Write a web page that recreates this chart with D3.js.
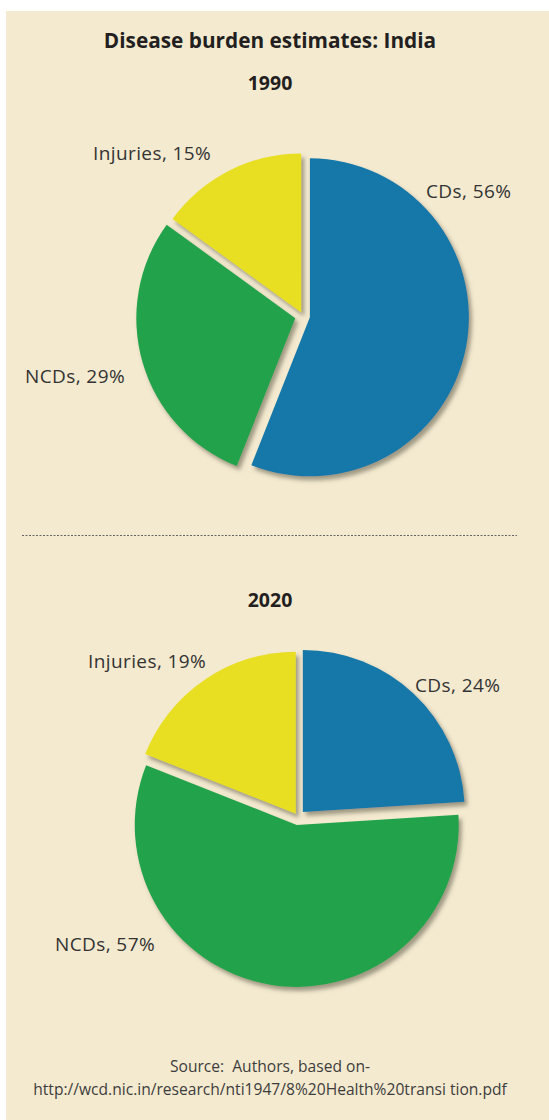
<!DOCTYPE html>
<html>
<head>
<meta charset="utf-8">
<script src="https://cdn.jsdelivr.net/npm/d3@7"></script>
<style>
  html, body { margin: 0; padding: 0; background: #ffffff; }
  svg { display: block; }
  text { font-family: "Open Sans", "Noto Sans", sans-serif; white-space: pre; }
</style>
</head>
<body>
<svg id="chart" width="549" height="1120"></svg>
<script>
// ---- data ----
const categories = ["CDs", "NCDs", "Injuries"];
const years = ["1990", "2020"];
const values1990 = [56, 29, 15];
const values2020 = [24, 57, 19];
const title = "Disease burden estimates: India";
const sourceLines = ["Source:  Authors, based on-", "http://wcd.nic.in/research/nti1947/8%20Health%20transi tion.pdf"];

// ---- style / layout ----
const colors = d3.scaleOrdinal().domain(categories).range(["#1378a9", "#24a34b", "#e8de24"]);
const bg = "#f4ead0";
const textColor = "#333";
const explode = { "CDs": 7, "NCDs": 8, "Injuries": 4 };

const panels = [
  { year: years[0], values: values1990, cx: 303, cy: 316, r: 159, yearY: 90,
    labelPos: { "CDs": [426, 198, "start"], "NCDs": [25, 383, "start"], "Injuries": [93, 160, "start"] } },
  { year: years[1], values: values2020, cx: 298, cy: 817, r: 162, yearY: 607,
    labelPos: { "CDs": [415, 692, "start"], "NCDs": [55, 951, "start"], "Injuries": [88, 668, "start"] } }
];

const svg = d3.select("#chart");
const W = 549, H = 1120;

const defs = svg.append("defs");
const f = defs.append("filter").attr("id", "shadow")
  .attr("x", "-20%").attr("y", "-20%").attr("width", "140%").attr("height", "140%");
f.append("feDropShadow").attr("dx", 3).attr("dy", 4).attr("stdDeviation", 2.2)
  .attr("flood-color", "#5a5444").attr("flood-opacity", 0.55);

svg.append("rect").attr("x", 6).attr("y", 11).attr("width", W - 6).attr("height", H - 11).attr("fill", bg);

svg.append("text").attr("x", 270).attr("y", 48).attr("text-anchor", "middle")
  .attr("font-size", 20.8).attr("font-weight", 700).attr("fill", "#231f20").text(title);

const pie = d3.pie().sort(null).value(d => d.v);

panels.forEach(p => {
  svg.append("text").attr("x", 270).attr("y", p.yearY).attr("text-anchor", "middle")
    .attr("font-size", 19.5).attr("font-weight", 700).attr("fill", "#231f20").text(p.year);

  const data = categories.map((c, i) => ({ c, v: p.values[i] }));
  const arcs = pie(data);
  const arc = d3.arc().innerRadius(0).outerRadius(p.r);
  const g = svg.append("g").attr("transform", `translate(${p.cx},${p.cy})`);
  g.selectAll("path").data(arcs).join("path")
    .attr("d", arc)
    .attr("fill", d => colors(d.data.c))
    .attr("filter", "url(#shadow)")
    .attr("transform", d => {
      const m = (d.startAngle + d.endAngle) / 2;
      const o = explode[d.data.c];
      return `translate(${Math.sin(m) * o},${-Math.cos(m) * o})`;
    });

  svg.append("g").selectAll("text").data(arcs).join("text")
    .attr("x", d => p.labelPos[d.data.c][0])
    .attr("y", d => p.labelPos[d.data.c][1])
    .attr("text-anchor", d => p.labelPos[d.data.c][2])
    .attr("font-size", 19).attr("letter-spacing", 0.4).attr("fill", textColor)
    .text(d => `${d.data.c}, ${d.data.v}%`);
});

svg.append("line").attr("x1", 22).attr("x2", 517).attr("y1", 535.5).attr("y2", 535.5)
  .attr("stroke", "#666").attr("stroke-width", 1).attr("stroke-dasharray", "2,1.5");

svg.append("g").selectAll("text").data(sourceLines).join("text")
  .attr("x", 270).attr("y", (d, i) => 1072 + i * 23).attr("text-anchor", "middle")
  .attr("font-size", 15.6).attr("fill", "#3d3d3d").text(d => d);
</script>
</body>
</html>
